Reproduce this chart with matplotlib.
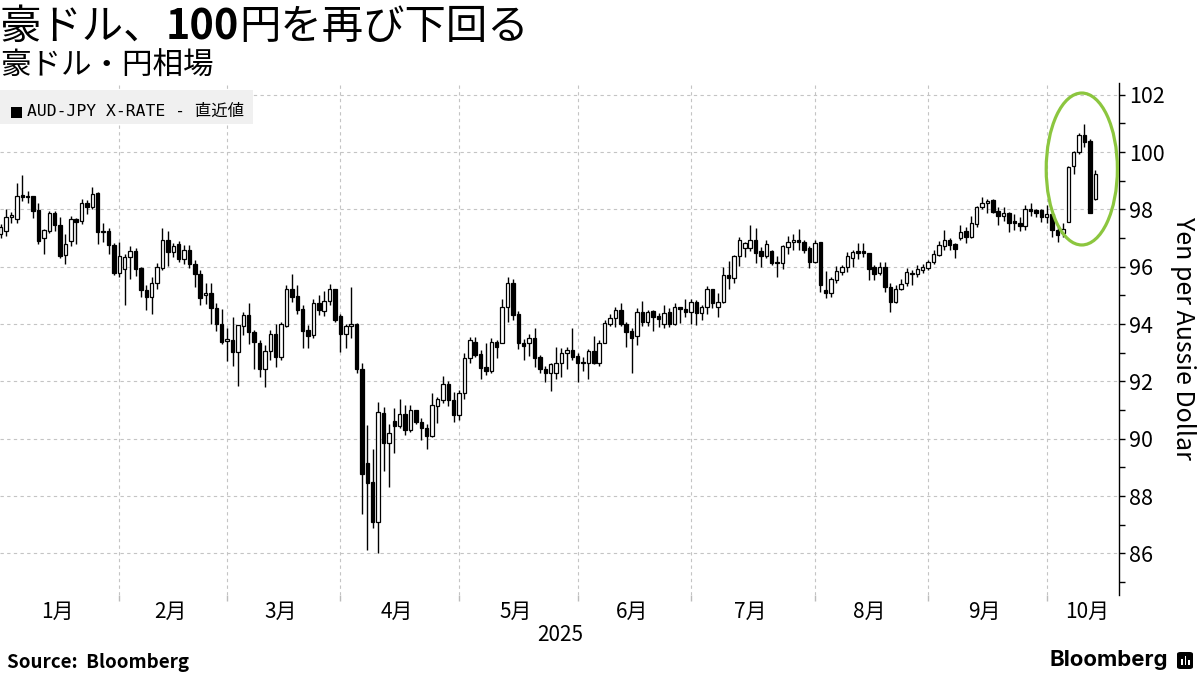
import matplotlib
matplotlib.use("Agg")
import matplotlib.pyplot as plt
from matplotlib.patches import Ellipse, Rectangle, FancyBboxPatch
import numpy as np
import pandas as pd

JP = "Noto Sans CJK JP"
plt.rcParams['font.family'] = [JP, 'DejaVu Sans']

# ---------------- text ----------------
title_runs = [("豪ドル、", "normal"), ("100", "bold"), ("円を再び下回る", "normal")]
subtitle = "豪ドル・円相場"
legend_label = "AUD-JPY X-RATE - 直近値"
y_label = "Yen per Aussie Dollar"
month_labels = ["1月", "2月", "3月", "4月", "5月", "6月", "7月", "8月", "9月", "10月"]
year_label = "2025"
source_label = "Source:  Bloomberg"
brand_label = "Bloomberg"
y_ticks = [86, 88, 90, 92, 94, 96, 98, 100, 102]

# ---------------- data (AUD-JPY daily OHLC, 2024-12-31 .. 2025-10-13) ----------------
opens = [97.14, 97.25, 97.72, 97.65, 98.50, 98.48, 98.46, 97.98, 97.02, 97.25,
         97.88, 97.44, 96.41, 96.89, 97.65, 97.59, 98.21, 98.07, 98.56, 97.26,
         97.24, 96.75, 95.79, 95.91, 96.35, 96.56, 95.94, 95.19, 94.93, 95.42,
         95.94, 96.95, 96.52, 96.81, 96.28, 96.60, 96.10, 95.75, 95.00, 95.07,
         94.55, 94.00, 93.40, 93.43, 93.03, 93.95, 94.31, 93.73, 93.33, 92.44,
         93.06, 93.67, 92.86, 93.94, 95.24, 94.98, 94.51, 93.79, 93.62, 94.72,
         94.47, 94.81, 95.21, 94.28, 93.67, 93.93, 94.02, 92.42, 89.14, 88.50,
         87.08, 90.91, 89.86, 90.62, 90.45, 90.86, 90.30, 91.00, 90.57, 90.36,
         90.10, 91.15, 91.35, 91.91, 91.35, 90.83, 91.58, 92.80, 93.38, 92.95,
         92.49, 92.37, 93.38, 93.35, 94.58, 95.44, 94.35, 93.33, 93.35, 93.53,
         92.84, 92.45, 92.28, 92.30, 92.63, 92.98, 93.09, 92.88, 92.67, 92.65,
         93.07, 92.65, 93.35, 94.02, 94.20, 94.49, 94.00, 93.76, 93.59, 94.41,
         94.08, 94.45, 94.28, 94.00, 94.41, 94.00, 94.58, 94.51, 94.43, 94.78,
         94.40, 94.60, 95.21, 94.58, 94.78, 95.71, 95.62, 96.37, 96.67, 96.67,
         96.95, 96.55, 96.38, 96.55, 96.17, 96.12, 96.70, 96.87, 96.93, 96.87,
         96.64, 96.17, 96.85, 95.18, 95.09, 95.53, 95.83, 95.98, 96.29, 96.56,
         96.56, 96.47, 96.00, 95.79, 96.00, 95.30, 94.78, 95.24, 95.42, 95.73,
         95.73, 95.88, 95.94, 96.17, 96.40, 96.73, 96.93, 96.79, 97.02, 97.25,
         97.04, 97.49, 98.07, 98.21, 98.32, 97.95, 97.78, 97.86, 97.59, 97.51,
         97.43, 98.03, 97.97, 97.97, 97.74, 97.84, 97.28, 97.18, 97.57, 99.51,
         99.99, 100.59, 100.38, 98.35]
highs = [97.50, 98.03, 97.92, 98.91, 99.20, 98.65, 98.48, 98.21, 97.30, 97.95,
         97.95, 97.72, 97.16, 97.77, 97.69, 98.35, 98.32, 98.77, 98.62, 97.51,
         97.34, 96.84, 96.87, 96.46, 96.72, 96.64, 95.98, 95.36, 95.65, 96.12,
         97.34, 97.25, 96.84, 96.91, 96.75, 96.75, 96.25, 95.90, 95.44, 95.42,
         94.72, 94.51, 93.85, 94.23, 93.96, 94.43, 94.72, 93.79, 93.44, 93.27,
         93.79, 94.02, 94.08, 95.36, 95.74, 95.36, 94.66, 93.96, 94.86, 95.01,
         95.16, 95.39, 95.24, 94.35, 94.00, 95.30, 94.05, 92.63, 90.48, 89.66,
         91.29, 91.12, 90.53, 91.09, 91.37, 91.17, 91.17, 91.02, 90.71, 90.53,
         91.58, 91.46, 92.18, 92.02, 91.64, 91.70, 93.00, 93.56, 93.56, 93.09,
         93.33, 93.50, 93.44, 94.86, 95.63, 95.56, 94.47, 93.48, 93.65, 93.85,
         92.92, 92.53, 92.65, 93.19, 93.15, 93.19, 93.85, 92.98, 92.86, 93.12,
         93.58, 93.44, 94.16, 94.34, 94.60, 94.74, 94.06, 93.85, 94.55, 94.81,
         94.49, 94.49, 94.40, 94.66, 94.55, 94.74, 94.60, 94.86, 94.86, 94.84,
         94.66, 95.33, 95.24, 95.09, 95.98, 96.21, 96.41, 97.05, 96.87, 97.45,
         97.34, 96.70, 96.95, 96.60, 96.38, 96.76, 97.07, 97.16, 97.30, 96.93,
         96.72, 96.93, 96.87, 95.86, 95.65, 96.02, 96.06, 96.52, 96.60, 96.84,
         96.84, 96.49, 96.06, 96.17, 96.17, 95.44, 95.36, 95.59, 95.94, 95.88,
         96.06, 96.09, 96.25, 96.60, 96.90, 97.28, 96.99, 96.84, 97.45, 97.37,
         97.77, 98.12, 98.42, 98.35, 98.38, 98.07, 98.09, 97.92, 97.84, 97.74,
         98.17, 98.21, 98.03, 98.03, 98.15, 97.88, 97.45, 97.51, 99.51, 100.03,
         100.65, 100.97, 100.44, 99.39]
lows = [97.00, 97.07, 97.53, 97.51, 98.30, 98.21, 97.69, 96.81, 96.43, 97.19,
        97.25, 96.32, 96.08, 96.72, 96.79, 97.48, 97.84, 98.00, 96.81, 96.87,
        96.46, 95.71, 95.65, 94.65, 95.59, 95.67, 94.95, 94.49, 94.34, 95.24,
        95.88, 96.02, 96.35, 96.17, 96.09, 95.95, 95.30, 94.66, 94.70, 94.00,
        93.77, 93.30, 92.72, 92.53, 91.84, 93.62, 93.30, 92.42, 92.14, 91.81,
        92.74, 92.51, 92.74, 93.91, 94.78, 94.35, 93.15, 93.15, 93.50, 94.31,
        94.28, 94.66, 94.08, 93.03, 93.18, 93.53, 92.30, 87.37, 86.12, 86.87,
        86.02, 88.88, 88.30, 89.51, 90.36, 90.13, 90.24, 90.53, 89.95, 89.63,
        90.07, 90.56, 91.26, 91.15, 90.57, 90.67, 91.37, 92.65, 92.86, 92.10,
        92.22, 92.30, 92.80, 93.33, 94.08, 94.16, 93.12, 92.74, 92.88, 92.49,
        92.28, 91.99, 91.67, 92.10, 92.14, 92.45, 92.74, 91.99, 92.36, 92.07,
        92.60, 92.53, 93.33, 93.93, 93.91, 93.93, 93.21, 92.28, 93.27, 93.93,
        93.93, 93.77, 93.91, 93.88, 93.91, 93.96, 94.05, 94.26, 94.02, 93.96,
        94.14, 94.35, 94.55, 94.26, 94.72, 95.24, 95.42, 96.02, 96.35, 96.56,
        96.12, 95.98, 96.29, 96.06, 95.65, 95.91, 96.43, 96.60, 96.60, 96.49,
        95.94, 96.12, 95.13, 94.90, 94.95, 95.44, 95.71, 95.83, 96.00, 96.26,
        96.35, 95.53, 95.53, 95.71, 95.12, 94.43, 94.72, 95.19, 95.32, 95.36,
        95.65, 95.77, 95.88, 96.09, 96.37, 96.58, 96.58, 96.29, 96.95, 96.84,
        97.02, 97.39, 98.03, 97.88, 97.88, 97.45, 97.60, 97.22, 97.28, 97.25,
        97.28, 97.77, 97.74, 97.57, 97.53, 97.05, 96.87, 97.04, 97.57, 99.25,
        99.95, 100.18, 97.86, 98.32]
closes = [97.39, 97.72, 97.80, 98.46, 98.45, 98.45, 97.95, 96.91, 97.28, 97.88,
          97.44, 96.37, 96.78, 97.65, 97.57, 98.21, 98.07, 98.53, 97.22, 97.22,
          96.75, 95.79, 96.38, 96.35, 96.55, 95.91, 95.19, 94.93, 95.42, 95.98,
          96.95, 96.52, 96.72, 96.28, 96.60, 96.08, 95.75, 94.92, 95.07, 94.55,
          93.99, 93.38, 93.49, 93.03, 93.96, 94.31, 93.71, 93.38, 92.44, 93.06,
          93.67, 92.86, 94.00, 95.24, 94.95, 94.49, 93.77, 93.59, 94.72, 94.50,
          94.81, 95.21, 94.16, 93.67, 93.93, 94.02, 92.42, 88.77, 88.46, 87.10,
          90.94, 89.86, 90.21, 90.45, 90.86, 90.30, 91.00, 90.59, 90.36, 90.10,
          91.17, 91.37, 91.91, 91.35, 90.83, 91.58, 92.80, 93.44, 92.92, 92.48,
          92.37, 93.38, 93.19, 94.58, 95.44, 94.31, 93.33, 93.24, 93.53, 92.80,
          92.45, 92.28, 92.60, 92.63, 92.98, 93.09, 92.86, 92.63, 92.63, 93.07,
          92.65, 93.35, 94.05, 94.20, 94.49, 94.00, 93.73, 93.50, 94.41, 94.08,
          94.43, 94.26, 94.17, 94.40, 94.00, 94.58, 94.51, 94.43, 94.78, 94.37,
          94.60, 95.21, 94.72, 94.78, 95.71, 95.62, 96.37, 96.95, 96.84, 96.95,
          96.49, 96.38, 96.81, 96.12, 96.12, 96.72, 96.87, 96.95, 96.85, 96.60,
          96.17, 96.84, 95.36, 95.09, 95.56, 95.85, 96.00, 96.37, 96.52, 96.49,
          96.47, 95.91, 95.74, 96.00, 95.28, 94.78, 95.24, 95.39, 95.82, 95.79,
          95.92, 96.00, 96.17, 96.44, 96.75, 96.93, 96.75, 96.61, 97.22, 97.04,
          97.51, 98.07, 98.21, 98.30, 97.92, 97.78, 97.86, 97.54, 97.51, 97.43,
          98.03, 97.95, 97.86, 97.74, 97.84, 97.28, 97.10, 97.33, 99.49, 100.01,
          100.59, 100.36, 97.88, 99.22]

# trading days (weekdays, New Year's Day closed)
dates = pd.bdate_range("2024-12-31", "2025-10-13")
dates = dates[dates != pd.Timestamp("2025-01-01")]
n = min(len(dates), len(opens))
dates = dates[:n]
o = np.array(opens[:n]); h = np.array(highs[:n]); l = np.array(lows[:n]); c = np.array(closes[:n])
x = np.arange(n)

# month boundaries: last trading day of each month (2025 only)
months = dates.month
bounds = [i for i in range(1, n - 1) if months[i] != months[i + 1]]
edges = [0] + bounds + [n + 6]
centers = [(edges[k] + edges[k + 1]) / 2 - 0.5 for k in range(len(edges) - 1)]

W, H = 1200, 675
fig = plt.figure(figsize=(W / 100, H / 100), dpi=100)
ax = fig.add_axes([0, 1 - 595 / H, 1119 / W, (595 - 83) / H])
ax.set_xlim(-0.13, 207.4)
ax.set_ylim(84.55, 102.41)

# candles
up = c >= o
ax.vlines(x, l, h, color="black", lw=1.0, zorder=3)
body = np.maximum(np.abs(c - o), 0.03)
ax.bar(x, body, bottom=np.minimum(o, c), width=0.64,
       color=["white" if u else "black" for u in up],
       edgecolor="black", linewidth=0.9, zorder=4)

# grid
grid_kw = dict(color="#c4c4c4", linestyle=(0, (3, 3)), linewidth=0.8)
ax.set_yticks(y_ticks)
ax.set_yticks(np.arange(85, 103, 2), minor=True)
ax.set_xticks(bounds)
ax.set_xticklabels([""] * len(bounds))
ax.set_xticks(centers, minor=True)
ax.set_xticklabels(month_labels[:len(centers)], minor=True)
ax.grid(True, which="major", axis="both", zorder=0, **grid_kw)
ax.set_axisbelow(True)

ax.yaxis.tick_right()
for s in ["left", "top", "bottom"]:
    ax.spines[s].set_visible(False)
ax.spines["right"].set_color("black")
ax.spines["right"].set_linewidth(1.0)
ax.tick_params(axis="y", which="both", direction="out", length=4, width=1,
               color="black", labelsize=15.5, pad=3, labelcolor="black")
ax.tick_params(axis="x", which="major", length=4, color="#bbbbbb", width=1)
ax.tick_params(axis="x", which="minor", length=0, labelsize=15, pad=4)

# highlight ellipse
ax.add_patch(Ellipse((200.5, 99.41), 13.2, 5.30, fill=False,
                     edgecolor="#8cc63f", lw=2.3, zorder=6, clip_on=False))

# y label
fig.text(1183 / W, 1 - 338 / H, y_label, rotation=-90, va="center", ha="center",
         fontsize=18)

# year label
fig.text(560 / W, 1 - 635 / H, year_label, ha="center", va="center", fontsize=15)

# title with mixed weights
fig.canvas.draw()
renderer = fig.canvas.get_renderer()
xx = 0.0
for s, w in title_runs:
    t = fig.text(xx, 1 - 27 / H, s, fontsize=29.8, fontweight=w, va="center", ha="left")
    bb = t.get_window_extent(renderer)
    xx = bb.x1 / fig.bbox.width

fig.text(0.0, 1 - 66 / H, subtitle, fontsize=22, va="center", ha="left")

# legend box
fig.add_artist(Rectangle((0, 1 - 124 / H), 253 / W, 34 / H, transform=fig.transFigure,
                         facecolor="#f0f0f0", edgecolor="none", zorder=5))
fig.add_artist(Rectangle((11 / W, 1 - 118 / H), 11 / W, 11 / H, transform=fig.transFigure,
                         facecolor="black", edgecolor="none", zorder=6))
fig.text(27 / W, 1 - 111 / H, legend_label, fontsize=11.8, va="center", ha="left",
         family=["DejaVu Sans Mono", JP], zorder=7)

# footer
fig.text(7 / W, 1 - 662 / H, source_label, fontsize=13.5, fontweight="bold",
         va="center", ha="left")
fig.text(1168 / W, 1 - 660 / H, brand_label, fontsize=16, fontweight="bold",
         va="center", ha="right", family=["Inter", "DejaVu Sans"])
fig.add_artist(FancyBboxPatch((1177 / W, 1 - 669 / H), 16 / W, 17 / H,
                              boxstyle="round,pad=0,rounding_size=0.003",
                              transform=fig.transFigure, facecolor="black",
                              edgecolor="none"))
for bx, bh in [(1181, 6), (1184.5, 9), (1188, 5)]:
    fig.add_artist(Rectangle((bx / W, 1 - 665 / H), 1.6 / W, bh / H,
                             transform=fig.transFigure, facecolor="white",
                             edgecolor="none"))

fig.savefig("out.png", dpi=100)
